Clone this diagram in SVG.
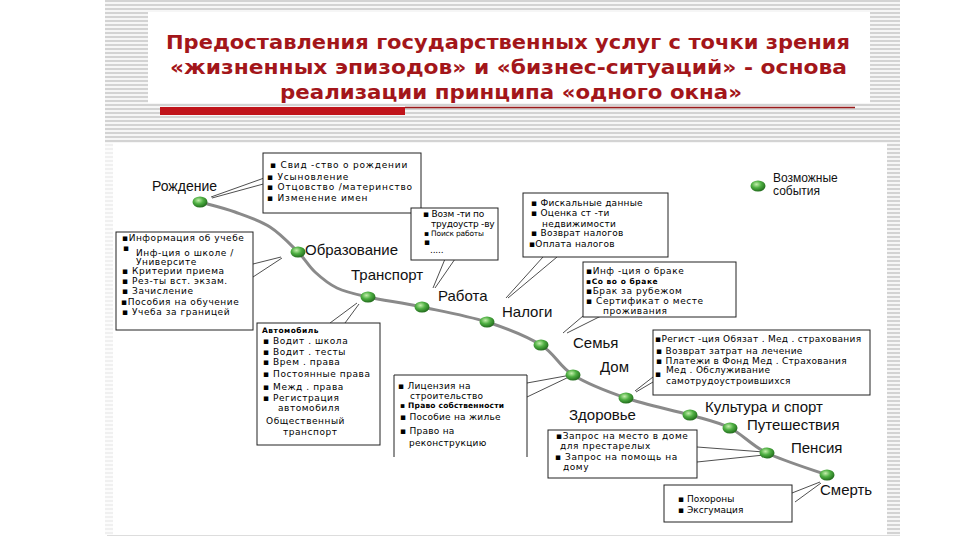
<svg xmlns="http://www.w3.org/2000/svg" width="960" height="540" viewBox="0 0 960 540">
<defs>
<pattern id="st" width="4" height="4" patternUnits="userSpaceOnUse"><rect width="4" height="4" fill="#f6f6f6"/><rect width="4" height="2" fill="#d3d3d3"/></pattern>
<radialGradient id="g" cx="40%" cy="35%" r="70%"><stop offset="0" stop-color="#c4eeac"/><stop offset="0.45" stop-color="#4fb043"/><stop offset="1" stop-color="#1c6317"/></radialGradient>
<style>
.box{fill:#fff;stroke:#222;stroke-width:1}
.t{font-family:"DejaVu Sans",Verdana,sans-serif;font-size:9px;fill:#000}
#birth .t{letter-spacing:0.8px}
#education .t,#transport .t,#family .t,#pension .t{letter-spacing:0.55px}
#health .t{letter-spacing:0.3px}
#taxes .t,#home .t{letter-spacing:0.25px}
#work .t{letter-spacing:-0.2px}
.lbl{font-family:"Liberation Sans",Arial,sans-serif;font-size:15px;fill:#111}
.ttl{font-family:"DejaVu Sans",Verdana,sans-serif;font-weight:bold;font-size:20px;fill:#a3161a;text-anchor:middle}
.ln{stroke:#222;stroke-width:0.8;fill:none}
.dot{fill:url(#g)}
</style>
</defs>
<rect width="960" height="540" fill="#fff"/>
<rect x="105" y="0" width="795" height="143" fill="url(#st)"/>
<rect x="105" y="143" width="8" height="392" fill="url(#st)" opacity="0.35"/>
<rect x="887" y="143" width="13" height="392" fill="url(#st)"/>
<rect x="148" y="12" width="722" height="91" fill="#fff"/>
<rect x="113" y="143" width="774" height="392" fill="#fff"/>
<line x1="107" y1="535.5" x2="900" y2="535.5" stroke="#ddd"/>
<g id="title">
<text class="ttl" x="508" y="49" textLength="684" lengthAdjust="spacingAndGlyphs">Предоставления государственных услуг  с точки зрения</text>
<text class="ttl" x="508.5" y="74" textLength="677" lengthAdjust="spacingAndGlyphs">«жизненных эпизодов» и «бизнес-ситуаций» - основа</text>
<text class="ttl" x="511" y="99" textLength="462" lengthAdjust="spacingAndGlyphs">реализации принципа «одного окна»</text>
<rect x="160" y="107" width="245" height="8" fill="#c0141b"/>
<line x1="405" y1="107.5" x2="855" y2="107.5" stroke="#9b1b1b" stroke-width="1.5"/>
</g>
<g id="connectors">
<path d="M200,202 C205.8,203.7 223.3,207.8 235,212 C246.7,216.2 259.5,220.3 270,227 C280.5,233.7 290.5,244.5 298,252 C305.5,259.5 308.5,266 315,272 C321.5,278 328.2,283.8 337,288 C345.8,292.2 353.8,293.8 368,297 C382.2,300.2 402.2,302.8 422,307 C441.8,311.2 467.2,315.7 487,322 C506.8,328.3 526.7,336.2 541,345 C555.3,353.8 558.8,366.2 573,375 C587.2,383.8 606.5,391.3 626,398 C645.5,404.7 672.7,410 690,415 C707.3,420 717.2,421.7 730,428 C742.8,434.3 750.8,445.2 767,453 C783.2,460.8 817,471.3 827,475" fill="none" stroke="#8a8a8a" stroke-width="3" stroke-linecap="round"/>
<path class="ln" d="M267,177 L211,197 M267,183 L212,198"/>
<path class="ln" d="M253,264 L281,257 M253,277 L282,258"/>
<path class="ln" d="M445,259 L433,288 M455,259 L435,288"/>
<path class="ln" d="M543,257 L506,298 M557,257 L508,298"/>
<path class="ln" d="M583,316 L563,333 M603,315 L567,333"/>
<path class="ln" d="M330,323 L357,303 M345,323 L359,304"/>
<path class="ln" d="M527,383 L571,375 M527,397 L571,376"/>
<path class="ln" d="M653,377 L635,391 M653,382 L636,392"/>
<path class="ln" d="M697,447 L764,452 M697,462 L764,455"/>
<path class="ln" d="M792,493 L820,482 M795,502 L821,483"/>
</g>
<g id="legend">
<ellipse class="dot" cx="758" cy="186" rx="7.5" ry="5.5"/>
<text class="lbl" x="773" y="182" style="font-size:12px">Возможные</text>
<text class="lbl" x="773" y="195" style="font-size:12px">события</text>
</g>
<g id="birth">
<ellipse class="dot" cx="200" cy="202" rx="7.5" ry="5.5"/>
<text class="lbl" x="152" y="191" style="font-size:14px">Рождение</text>
<rect class="box" x="263" y="153" width="158" height="60"/>
<text class="t" x="270" y="168">▪ Свид -ство о рождении</text>
<text class="t" x="267" y="180">▪ Усыновление</text>
<text class="t" x="267" y="190">▪ Отцовство /материнство</text>
<text class="t" x="267" y="201">▪ Изменение имен</text>
</g>
<g id="education">
<ellipse class="dot" cx="298" cy="252" rx="7.5" ry="5.5"/>
<text class="lbl" x="305" y="255">Образование</text>
<rect class="box" x="116" y="232" width="137" height="98"/>
<text class="t" x="122" y="241">▪Информация об учебе</text>
<text class="t" x="123" y="251">▪</text>
<text class="t" x="136" y="256">Инф-ция о школе  /</text>
<text class="t" x="136" y="265">Университе</text>
<text class="t" x="122" y="274">▪ Критерии приема</text>
<text class="t" x="122" y="284">▪ Рез-ты вст. экзам.</text>
<text class="t" x="122" y="294">▪  Зачисление</text>
<text class="t" x="121" y="305">▪Пособия на обучение</text>
<text class="t" x="122" y="315">▪ Учеба за границей</text>
</g>
<g id="transport">
<ellipse class="dot" cx="368" cy="297" rx="7.5" ry="5.5"/>
<text class="lbl" x="351" y="280">Транспорт</text>
<rect class="box" x="257" y="323" width="123" height="122"/>
<text class="t" x="262" y="333" style="font-size:7.5px;font-weight:bold;letter-spacing:0.5px">Автомобиль</text>
<text class="t" x="263" y="344">▪ Водит . школа</text>
<text class="t" x="263" y="355">▪  Водит . тесты</text>
<text class="t" x="263" y="365">▪ Врем . права</text>
<text class="t" x="263" y="377">▪ Постоянные права</text>
<text class="t" x="263" y="390">▪ Межд . права</text>
<text class="t" x="263" y="401">▪  Регистрация</text>
<text class="t" x="278" y="411">автомобиля</text>
<text class="t" x="266" y="424">Общественный</text>
<text class="t" x="283" y="435">транспорт</text>
</g>
<g id="work">
<ellipse class="dot" cx="422" cy="307" rx="7.5" ry="5.5"/>
<text class="lbl" x="438" y="301">Работа</text>
<rect class="box" x="411" y="208" width="87" height="52"/>
<text class="t" x="423" y="217">▪ Возм -ти по</text>
<text class="t" x="431" y="227">трудоустр -ву</text>
<text class="t" x="424" y="236" style="font-size:7.5px">▪ Поиск работы</text>
<text class="t" x="424" y="245">▪</text>
<text class="t" x="430" y="253">.....</text>
</g>
<g id="taxes">
<ellipse class="dot" cx="487" cy="322" rx="7.5" ry="5.5"/>
<text class="lbl" x="502" y="317">Налоги</text>
<rect class="box" x="523" y="193" width="145" height="64"/>
<text class="t" x="531" y="206">▪  Фискальные данные</text>
<text class="t" x="531" y="216">▪  Оценка ст -ти</text>
<text class="t" x="542" y="227">недвижимости</text>
<text class="t" x="531" y="236">▪  Возврат налогов</text>
<text class="t" x="529" y="247">▪Оплата налогов</text>
</g>
<g id="family">
<ellipse class="dot" cx="541" cy="345" rx="7.5" ry="5.5"/>
<text class="lbl" x="573" y="348">Семья</text>
<rect class="box" x="583" y="262" width="153" height="55"/>
<text class="t" x="586" y="274">▪Инф -ция о браке</text>
<text class="t" x="586" y="284" style="font-size:7.5px;font-weight:bold">▪Со  во о браке</text>
<text class="t" x="586" y="294">▪Брак за рубежом</text>
<text class="t" x="586" y="304">▪  Сертификат о месте</text>
<text class="t" x="603" y="314">проживания</text>
</g>
<g id="home">
<ellipse class="dot" cx="573" cy="375" rx="7.5" ry="5.5"/>
<text class="lbl" x="600" y="372">Дом</text>
<path class="box" d="M394,457 V375 H527 V457"/>
<text class="t" x="398" y="389">▪  Лицензия на</text>
<text class="t" x="410" y="399">строительство</text>
<text class="t" x="400" y="408" style="font-size:7.5px;font-weight:bold;letter-spacing:0.2px">▪ Право собственности</text>
<text class="t" x="400" y="420">▪ Пособие на жилье</text>
<text class="t" x="400" y="434">▪ Право на</text>
<text class="t" x="409" y="446">реконструкцию</text>
</g>
<g id="health">
<ellipse class="dot" cx="626" cy="398" rx="7.5" ry="5.5"/>
<text class="lbl" x="569" y="420">Здоровье</text>
<rect class="box" x="653" y="330" width="217" height="65"/>
<text class="t" x="655" y="342">▪Регист -ция Обязат  . Мед . страхования</text>
<text class="t" x="656" y="354">▪ Возврат затрат на лечение</text>
<text class="t" x="656" y="364">▪ Платежи в Фонд Мед   . Страхования</text>
<text class="t" x="655" y="377">▪</text>
<text class="t" x="666" y="373">Мед . Обслуживание</text>
<text class="t" x="666" y="384">самотрудоустроившихся</text>
</g>
<g id="culture">
<ellipse class="dot" cx="690" cy="415" rx="7.5" ry="5.5"/>
<text class="lbl" x="705" y="412">Культура и спорт</text>
</g>
<g id="travel">
<ellipse class="dot" cx="730" cy="428" rx="7.5" ry="5.5"/>
<text class="lbl" x="747" y="430">Путешествия</text>
</g>
<g id="pension">
<ellipse class="dot" cx="767" cy="453" rx="7.5" ry="5.5"/>
<text class="lbl" x="791" y="453">Пенсия</text>
<rect class="box" x="548" y="430" width="149" height="48"/>
<text class="t" x="556" y="439">▪Запрос на место в доме</text>
<text class="t" x="560" y="449">для престарелых</text>
<text class="t" x="555" y="460">▪ Запрос на помощь на</text>
<text class="t" x="563" y="470">дому</text>
</g>
<g id="death">
<ellipse class="dot" cx="827" cy="475" rx="7.5" ry="5.5"/>
<text class="lbl" x="820" y="495">Смерть</text>
<rect class="box" x="664" y="485" width="128" height="37"/>
<text class="t" x="678" y="502">▪ Похороны</text>
<text class="t" x="678" y="513">▪ Эксгумация</text>
</g>
</svg>
